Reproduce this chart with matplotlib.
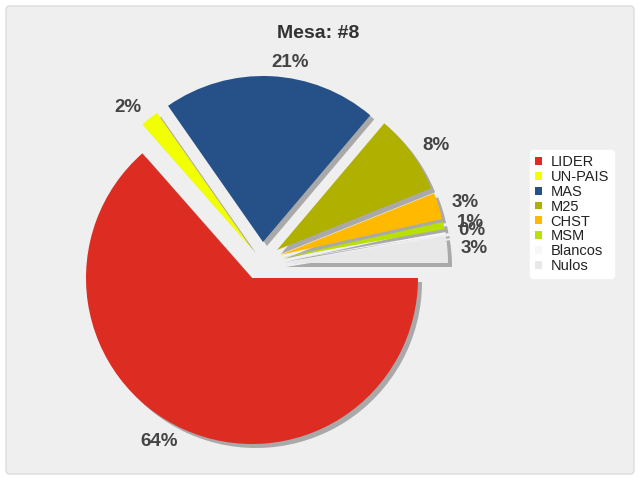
import numpy as np
import matplotlib.pyplot as plt
from matplotlib.patches import FancyBboxPatch

# datos de la mesa
names = ['LIDER', 'UN-PAIS', 'MAS', 'M25', 'CHST', 'MSM', 'Blancos', 'Nulos']
values = [63.9, 1.8, 21.0, 7.8, 2.6, 0.7, 0.2, 2.6]
pct_labels = ['64%', '2%', '21%', '8%', '3%', '1%', '0%', '3%']
colors = ['#dd2c22', '#f2ff00', '#255188', '#b0b000', '#ffba00', '#b8e000', '#f7f7f7', '#e8e8e8']

# desplazamiento de cada porcion (px)
offsets = [(0, 0), (0, 29), (11, 36), (25, 28), (28, 23), (29, 20), (30, 17), (30, 15)]

fig = plt.figure(figsize=(6.4, 4.8), dpi=100)
fig.patch.set_facecolor('white')
bg = FancyBboxPatch((6, 6), 628, 468, boxstyle='round,pad=0,rounding_size=4',
                    transform=None, facecolor='#efefef', edgecolor='#dcdcdc', lw=1,
                    zorder=-5)
fig.patches.append(bg)

ax = fig.add_axes([0, 0, 1, 1])
ax.patch.set_visible(False)

cx, cy, r = 252, 480 - 278, 166
ld = 1.08

# sombra
shadow, _ = ax.pie(values, colors=['#a9a9a9'] * len(values), radius=r,
                   center=(cx, cy), startangle=0, counterclock=False,
                   wedgeprops=dict(linewidth=0), frame=True)
for w, (dx, dy) in zip(shadow, offsets):
    w.set_center((cx + dx + 4, cy + dy - 4))

wedges, texts = ax.pie(values, colors=colors, radius=r,
                       center=(cx, cy), startangle=0, counterclock=False,
                       labels=pct_labels, labeldistance=ld,
                       wedgeprops=dict(linewidth=0), frame=True,
                       textprops=dict(fontsize=13.5, fontweight='bold', color='#444444',
                                      family='Liberation Sans'))
for w, t, (dx, dy) in zip(wedges, texts, offsets):
    w.set_center((cx + dx, cy + dy))
    mid = np.deg2rad((w.theta1 + w.theta2) / 2)
    t.set_position((cx + dx + ld * r * np.cos(mid), cy + dy + ld * r * np.sin(mid)))
    t.set_ha('left' if np.cos(mid) > 0 else 'right')
    t.set_va('center')

ax.set_xlim(0, 640)
ax.set_ylim(0, 480)
ax.set_aspect('auto')
ax.axis('off')

ax.text(318, 480 - 33, 'Mesa: #8', ha='center', va='center', fontsize=14,
        fontweight='bold', color='#333333', family='Liberation Sans')

leg = ax.legend(wedges, names, loc='upper left', bbox_to_anchor=(530 / 640, 1 - 150 / 480),
                frameon=True, fancybox=True, facecolor='white', edgecolor='white',
                framealpha=1, handlelength=0.45, handleheight=0.45, handletextpad=0.6,
                labelspacing=0.06, borderpad=0.35, borderaxespad=0,
                prop=dict(family='Liberation Sans', size=10.5))
for t in leg.get_texts():
    t.set_color('#222222')

fig.savefig('out.png', dpi=100)
